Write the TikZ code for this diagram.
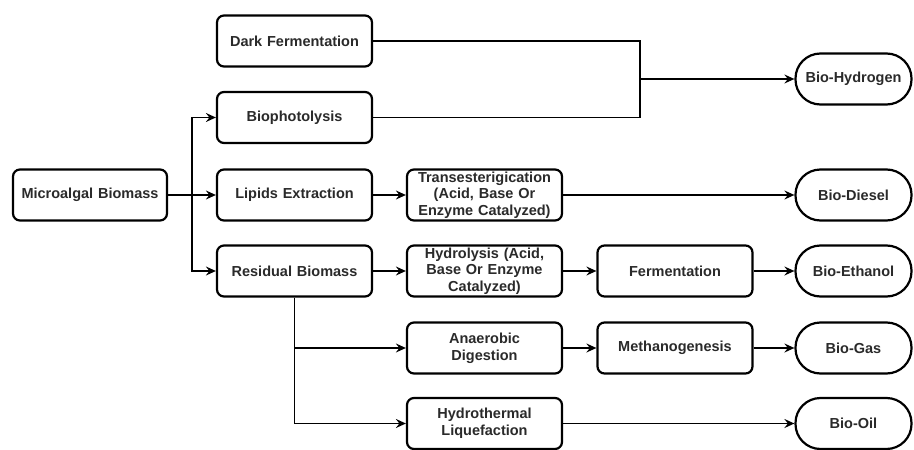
\documentclass[tikz,border=0pt]{standalone}
\usepackage{fontspec}
\setmainfont{Liberation Sans}
\usetikzlibrary{arrows.meta}
\definecolor{txt}{HTML}{2A2A2A}
\tikzset{
  procbox/.style={draw=black, line width=2.2pt, rounded corners=7pt, minimum width=155pt, minimum height=51pt, inner sep=1pt, align=center, text width=152pt, font=\fontsize{14.5pt}{16.7pt}\selectfont\bfseries, text=txt, fill=white},
  termbox/.style={draw=black, line width=2.2pt, rounded corners=25pt, minimum width=116pt, minimum height=51pt, inner sep=1pt, align=center, font=\fontsize{14.5pt}{16.7pt}\selectfont\bfseries, text=txt, fill=white},
  conn/.style={draw=black, line width=1.7pt},
  arr/.style={conn, -{Stealth[length=10pt,width=9pt,inset=3.5pt]}}
}
\begin{document}
\begin{tikzpicture}[x=1pt,y=-1pt]
\useasboundingbox (0,0) rectangle (914,450);
% nodes
\node[procbox, minimum width=154pt] (micro) at (90,195) {Microalgal Biomass};
\node[procbox] (dark) at (294.5,41) {Dark Fermentation};
\node[procbox] (bph)  at (294.5,117.5) {Biophotolysis};
\node[procbox] (lip)  at (294.5,195) {Lipids Extraction};
\node[procbox] (res)  at (294.5,271) {Residual Biomass};
\node[procbox] (trans) at (484.5,195) {Transesterigication\\(Acid, Base Or\\Enzyme Catalyzed)};
\node[procbox] (hyd)  at (484.5,271) {Hydrolysis (Acid,\\Base Or Enzyme\\Catalyzed)};
\node[procbox] (ana)  at (484.5,348) {Anaerobic\\Digestion};
\node[procbox] (htl)  at (484.5,423.5) {Hydrothermal\\Liquefaction};
\node[procbox] (ferm) at (675,271) {Fermentation};
\node[procbox] (meth) at (675,348) {Methanogenesis};
\node[termbox] (h2)   at (853.5,79) {Bio-Hydrogen};
\node[termbox] (dsl)  at (853.5,195) {Bio-Diesel};
\node[termbox] (eth)  at (853.5,271) {Bio-Ethanol};
\node[termbox] (gas)  at (853.5,348) {Bio-Gas};
\node[termbox] (oil)  at (853.5,423.5) {Bio-Oil};
% helper coordinates
\coordinate (split) at (192,195);
\coordinate (merge) at (640,79);
% connectors
\draw[arr] (micro.east) -- (lip.west);
\draw[arr] (split) |- (bph.west);
\draw[arr] (split) |- (res.west);
\draw[conn] (dark.east) -| (merge);
\draw[conn] (bph.east) -| (merge);
\draw[arr] (merge) -- (h2.west);
\draw[arr] (lip) -- (trans);
\draw[arr] (trans) -- (dsl);
\draw[arr] (res) -- (hyd);
\draw[arr] (hyd) -- (ferm);
\draw[arr] (ferm) -- (eth);
\draw[arr] (res.south) |- (ana.west);
\draw[arr] (res.south) |- (htl.west);
\draw[arr] (ana) -- (meth);
\draw[arr] (meth) -- (gas);
\draw[arr] (htl) -- (oil);
\end{tikzpicture}
\end{document}
